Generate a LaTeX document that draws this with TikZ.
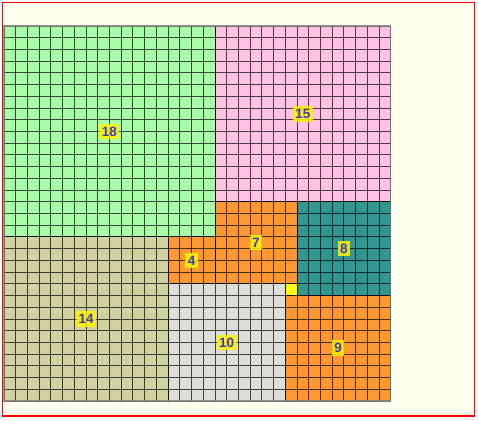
\documentclass[tikz,border=0pt]{standalone}
\usepackage{fontspec}
\setmainfont{Liberation Sans}
\begin{document}
\begin{tikzpicture}[x=1pt,y=1pt,
  gridline/.style={black,opacity=0.7,line width=0.9pt},
  lab/.style={fill=yellow,fill opacity=0.85,text opacity=1,text=labcol,font=\fontsize{13.5}{13.5}\selectfont,inner xsep=2.5pt,inner ysep=3pt}]
\definecolor{bgcol}{RGB}{255,255,238}
\definecolor{labcol}{RGB}{60,60,190}
\definecolor{cgreen}{RGB}{168,255,168}
\definecolor{cpink}{RGB}{255,194,226}
\definecolor{ckhaki}{RGB}{210,210,160}
\definecolor{cgray}{RGB}{222,222,216}
\definecolor{corange}{RGB}{255,152,48}
\definecolor{cteal}{RGB}{48,152,144}
\definecolor{cyel}{RGB}{255,255,0}
\useasboundingbox (0,0) rectangle (478,420);
\fill[bgcol] (2.5,4) rectangle (474.5,417.5);
\draw[red,line width=1.3pt] (2.5,4) rectangle (474.5,417.5);
\begin{scope}[shift={(4,19)},x=11.72pt,y=11.72pt]
  \fill[cgreen]  (0,14) rectangle (18,32);
  \fill[cpink]   (18,17) rectangle (33,32);
  \fill[ckhaki]  (0,0) rectangle (14,14);
  \fill[cgray]   (14,0) rectangle (24,10);
  \fill[corange] (24,0) rectangle (33,9);
  \fill[cteal]   (25,9) rectangle (33,17);
  \fill[corange] (18,10) rectangle (25,17);
  \fill[corange] (14,10) rectangle (18,14);
  \fill[cyel]    (24,9) rectangle (25,10);
  % grid lines inside each square
  \foreach \a/\b/\c/\d in {0/14/18/32, 18/17/33/32, 0/0/14/14, 14/0/24/10, 24/0/33/9, 25/9/33/17, 18/10/25/17, 14/10/18/14} {
    \foreach \xx in {\a,...,\c} {\draw[gridline] (\xx,\b) -- (\xx,\d);}
    \foreach \yy in {\b,...,\d} {\draw[gridline] (\a,\yy) -- (\c,\yy);}
  }
  \draw[gridline] (24,9) rectangle (25,10);
  \draw[gray,opacity=0.8,line width=1.2pt] (0,0) rectangle (33,32);
  \node[lab] (l18) at (9,23) {\bfseries 18};
  \node[lab] (l15) at (25.5,24.5) {\bfseries 15};
  \node[lab] (l14) at (7,7) {\bfseries 14};
  \node[lab] (l10) at (19,5) {\bfseries 10};
  \node[lab] (l9)  at (28.5,4.5) {\bfseries 9};
  \node[lab] (l8)  at (29,13) {\bfseries 8};
  \node[lab] (l7)  at (21.5,13.5) {\bfseries 7};
  \node[lab] (l4)  at (16,12) {\bfseries 4};
\end{scope}
\end{tikzpicture}
\end{document}
